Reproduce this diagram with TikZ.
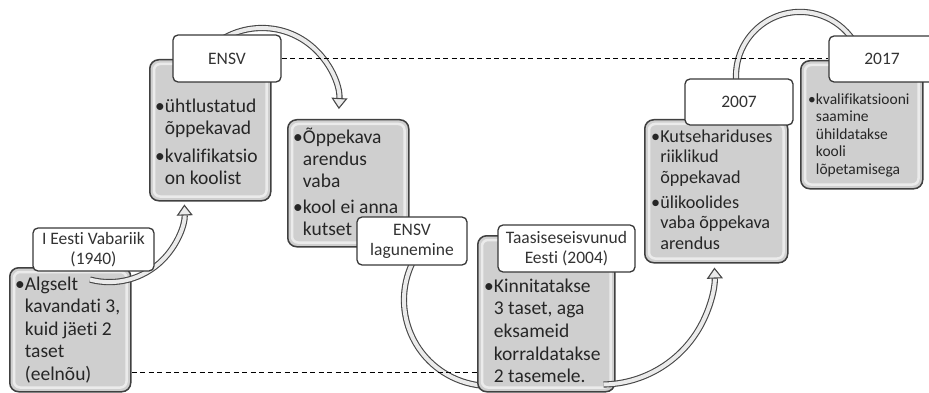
\documentclass[tikz,border=0pt]{standalone}
\usepackage{fontspec}
\setmainfont{Carlito}[Ligatures={NoCommon}]
\usetikzlibrary{arrows.meta}
\pgfdeclarelayer{front}
\pgfsetlayers{main,front}
% bullet and hanging indent for the list lines
\newcommand\bul{\strut\makebox[0.5em][l]{•}}
\newcommand\ind{\strut\hspace*{0.5em}}
\begin{document}
\begin{tikzpicture}[x=1pt,y=-1pt,
  gbox/.style={draw=black!75, line width=1.5pt, fill=black!19, rounded corners=9pt, inner sep=0pt, anchor=north west},
  hilite/.style={draw=white, line width=2.5pt, opacity=0.6, rounded corners=6pt},
  lbl/.style={draw=black!78, line width=1.3pt, fill=white, rounded corners=5pt, inner sep=0pt, align=center, text=black!80, font=\fontsize{17.5}{20}\selectfont},
  btxt/.style={anchor=north west, inner sep=0pt, align=left, text=black!85},
  band/.style={draw=black!72, line width=1.1pt, double=black!8, double distance=4pt},
  tip/.style={-{Triangle[length=11pt,width=16pt,fill=black!8,line width=1.1pt]}},
  guide/.style={draw=black, line width=0.9pt, dash pattern=on 5pt off 3.5pt}]
\useasboundingbox (0,0) rectangle (929,393);
\clip (0,0) rectangle (929,393);

% period labels sit above everything else
\begin{pgfonlayer}{front}
\node[lbl, minimum width=121pt, minimum height=43pt] (l1) at (93.5,249.5) {I Eesti Vabariik\\(1940)};
\node[lbl, minimum width=108pt, minimum height=47pt] (l2) at (227,58.5) {ENSV};
\node[lbl, minimum width=110pt, minimum height=48pt] (l3) at (412,241) {ENSV\\lagunemine};
\node[lbl, minimum width=137pt, minimum height=47pt] (l4) at (566.5,248.5) {Taasiseseisvunud\\Eesti (2004)};
\node[lbl, minimum width=108pt, minimum height=46pt] (l5) at (739,102) {2007};
\node[lbl, minimum width=106pt, minimum height=46pt] (l6) at (882,59) {2017};
\end{pgfonlayer}

% step 1: I Eesti Vabariik
\node[gbox, minimum width=121pt, minimum height=124pt] (b1) at (9,267) {};
\draw[hilite] ([shift={(5,5)}]b1.north west) rectangle ([shift={(-5,-5)}]b1.south east);
\node[btxt, font=\fontsize{19.5}{22.5}\selectfont] (t1) at (15,274.3)
  {\bul Algselt\\ \ind kavandati 3,\\ \ind kuid jäeti 2\\ \ind taset\\ \ind (eelnõu)};
\draw[band, tip] ([shift={(-3.5,7.9)}]l1.south) arc[start angle=105, end angle=-2, radius=75];

% step 2: ENSV
\node[gbox, minimum width=121pt, minimum height=141pt] (b2) at (149,59) {};
\draw[hilite] ([shift={(5,5)}]b2.north west) rectangle ([shift={(-5,-5)}]b2.south east);
\node[btxt, font=\fontsize{19.5}{22}\selectfont] (t2) at (155,96.6)
  {\bul ühtlustatud\\ \ind õppekavad\\[6pt] \bul kvalifikatsio\\ \ind on koolist};
\draw[band, tip] ([shift={(-24,-3)}]l2.center) arc[start angle=-140, end angle=3, radius=77];

% step 3: ENSV lagunemine
\node[gbox, minimum width=121pt, minimum height=127pt] (b3) at (287,119) {};
\draw[hilite] ([shift={(5,5)}]b3.north west) rectangle ([shift={(-5,-5)}]b3.south east);
\node[btxt, font=\fontsize{19.5}{22}\selectfont] (t3) at (293,127.6)
  {\bul Õppekava\\ \ind arendus\\ \ind vaba\\[4pt] \bul kool ei anna\\ \ind kutset};
\draw[band] ([shift={(3.5,16)}]l3.center) arc[start angle=210, end angle=92, radius=86];

% step 4: Taasiseseisvunud Eesti
\node[gbox, minimum width=137pt, minimum height=156pt] (b4) at (477,235) {};
\draw[hilite] ([shift={(5,5)}]b4.north west) rectangle ([shift={(-5,-5)}]b4.south east);
\node[btxt, font=\fontsize{19.5}{22.7}\selectfont] (t4) at (484,276)
  {\bul Kinnitatakse\\ \ind 3 taset, aga\\ \ind eksameid\\ \ind korraldatakse\\ \ind 2 tasemele.};
\draw[band, tip] ([shift={(-12,-8)}]b4.south east) arc[start angle=89, end angle=-2, radius=113];

% step 5: 2007
\node[gbox, minimum width=143pt, minimum height=143pt] (b5) at (644,119) {};
\draw[hilite] ([shift={(5,5)}]b5.north west) rectangle ([shift={(-5,-5)}]b5.south east);
\node[btxt, font=\fontsize{18.2}{20.5}\selectfont] (t5) at (651,127.6)
  {\bul Kutsehariduses\\ \ind riiklikud\\ \ind õppekavad\\[4.5pt] \bul ülikoolides\\ \ind vaba õppekava\\ \ind arendus};
\draw[band] ([shift={(-2,-15)}]l5.center) arc[start angle=170, end angle=330, radius=64];

% step 6: 2017
\node[gbox, minimum width=122pt, minimum height=128pt] (b6) at (800,60) {};
\draw[hilite] ([shift={(5,5)}]b6.north west) rectangle ([shift={(-5,-5)}]b6.south east);
\node[btxt, font=\fontsize{15.5}{17.6}\selectfont] (t6) at (808,91.5)
  {\bul kvalifikatsiooni\\ \ind saamine\\ \ind ühildatakse\\ \ind kooli\\ \ind lõpetamisega};

% dashed guide lines
\begin{pgfonlayer}{front}
\draw[guide] (l2.east) -- (l2.east -| l6.west);
\coordinate (g1) at ([yshift=20pt]b1.south east);
\draw[guide] (g1) -- (g1 -| b4.west);
\end{pgfonlayer}
\end{tikzpicture}
\end{document}
